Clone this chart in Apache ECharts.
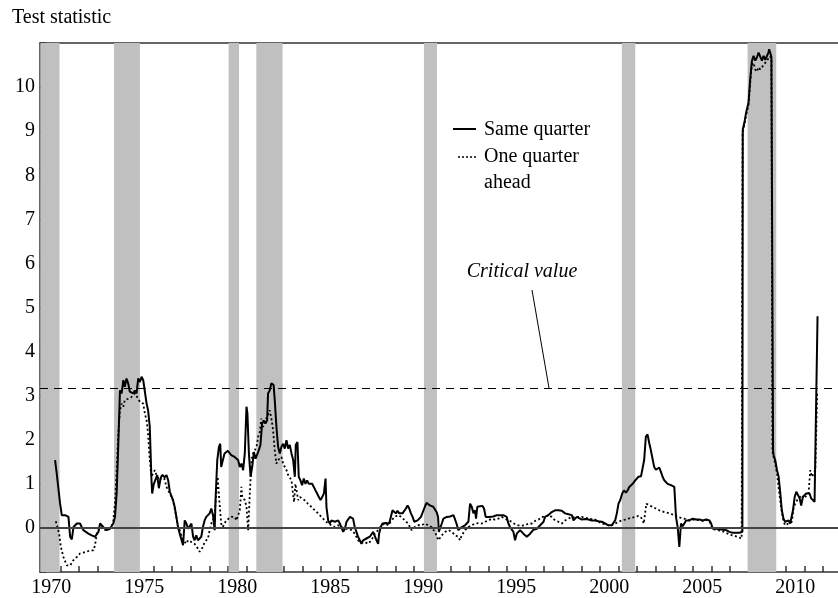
<!DOCTYPE html>
<html><head><meta charset="utf-8">
<script src="https://cdn.jsdelivr.net/npm/echarts@6/dist/echarts.min.js"></script>
<style>html,body{margin:0;padding:0;background:#fff}#c{width:838px;height:598px}</style>
</head><body><div id="c"></div>
<script>
// ---- data ----
const sameYear = [1970.71,1970.80,1970.89,1970.98,1971.07,1971.16,1971.25,1971.34,1971.43,1971.52,1971.61,1971.70,1971.79,1971.88,1972.05,1972.14,1972.23,1972.32,1972.50,1972.68,1972.77,1972.86,1973.04,1973.13,1973.30,1973.48,1973.66,1973.84,1973.93,1974.02,1974.11,1974.20,1974.29,1974.38,1974.46,1974.55,1974.64,1974.73,1974.82,1974.91,1975.00,1975.09,1975.18,1975.27,1975.36,1975.45,1975.54,1975.63,1975.71,1975.80,1975.89,1975.93,1976.02,1976.11,1976.20,1976.29,1976.38,1976.46,1976.61,1976.70,1976.79,1976.88,1976.96,1977.05,1977.14,1977.23,1977.32,1977.41,1977.50,1977.59,1977.68,1977.77,1977.86,1977.95,1978.04,1978.13,1978.21,1978.30,1978.39,1978.48,1978.57,1978.66,1978.75,1978.84,1978.93,1979.02,1979.11,1979.20,1979.29,1979.34,1979.43,1979.52,1979.59,1979.64,1979.73,1979.82,1980.00,1980.18,1980.36,1980.46,1980.55,1980.64,1980.73,1980.82,1980.91,1981.00,1981.05,1981.13,1981.22,1981.31,1981.40,1981.49,1981.57,1981.66,1981.75,1981.84,1981.93,1982.02,1982.11,1982.16,1982.25,1982.34,1982.46,1982.52,1982.61,1982.70,1982.79,1982.88,1982.97,1983.06,1983.15,1983.24,1983.33,1983.42,1983.51,1983.60,1983.65,1983.74,1983.81,1983.90,1983.99,1984.08,1984.17,1984.26,1984.35,1984.44,1984.53,1984.62,1984.71,1984.80,1984.89,1984.98,1985.07,1985.16,1985.25,1985.30,1985.39,1985.48,1985.57,1985.66,1985.75,1985.84,1985.93,1986.02,1986.11,1986.20,1986.29,1986.38,1986.47,1986.56,1986.65,1986.73,1986.82,1986.91,1987.00,1987.09,1987.18,1987.27,1987.36,1987.45,1987.54,1987.63,1987.72,1987.81,1987.90,1987.99,1988.08,1988.13,1988.22,1988.31,1988.40,1988.49,1988.58,1988.67,1988.76,1988.85,1988.94,1989.03,1989.12,1989.21,1989.30,1989.39,1989.48,1989.57,1989.66,1989.75,1989.84,1989.93,1990.02,1990.11,1990.20,1990.29,1990.38,1990.47,1990.59,1990.68,1990.77,1990.86,1990.95,1991.04,1991.13,1991.22,1991.30,1991.34,1991.41,1991.50,1991.59,1991.77,1991.95,1992.04,1992.13,1992.20,1992.29,1992.39,1992.48,1992.57,1992.75,1992.84,1992.93,1993.02,1993.11,1993.20,1993.29,1993.34,1993.41,1993.50,1993.68,1993.77,1993.86,1993.95,1994.04,1994.13,1994.27,1994.36,1994.46,1994.63,1994.72,1994.81,1994.90,1994.99,1995.08,1995.17,1995.26,1995.35,1995.44,1995.53,1995.62,1995.71,1995.80,1995.89,1995.98,1996.07,1996.16,1996.25,1996.34,1996.43,1996.52,1996.61,1996.70,1996.79,1996.88,1996.97,1997.05,1997.14,1997.23,1997.32,1997.41,1997.50,1997.59,1997.77,1997.95,1998.04,1998.13,1998.31,1998.40,1998.49,1998.58,1998.67,1998.76,1998.85,1999.03,1999.21,1999.39,1999.56,1999.74,1999.92,2000.10,2000.28,2000.46,2000.55,2000.64,2000.73,2000.82,2000.91,2001.00,2001.09,2001.20,2001.29,2001.40,2001.49,2001.58,2001.76,2001.90,2002.07,2002.21,2002.38,2002.47,2002.56,2002.66,2002.74,2002.83,2002.92,2003.01,2003.10,2003.19,2003.28,2003.37,2003.46,2003.55,2003.64,2003.82,2004.00,2004.09,2004.18,2004.27,2004.36,2004.45,2004.54,2004.63,2004.81,2004.99,2005.17,2005.35,2005.53,2005.71,2005.89,2005.98,2006.07,2006.25,2006.43,2006.61,2006.79,2006.96,2007.14,2007.32,2007.50,2007.59,2007.66,2007.68,2007.77,2007.86,2007.99,2008.08,2008.17,2008.26,2008.35,2008.44,2008.53,2008.62,2008.71,2008.80,2008.89,2008.98,2009.06,2009.10,2009.22,2009.28,2009.31,2009.34,2009.43,2009.52,2009.61,2009.70,2009.78,2009.87,2009.96,2010.05,2010.14,2010.23,2010.32,2010.38,2010.47,2010.56,2010.65,2010.74,2010.82,2010.91,2011.00,2011.09,2011.18,2011.27,2011.36,2011.45,2011.54,2011.61,2011.70];
const sameValue = [1.54,1.23,1.20,0.55,0.29,0.25,0.29,0.27,0.25,-0.20,-0.26,0.02,0.06,0.10,0.10,0.06,-0.05,-0.09,-0.13,-0.17,-0.13,-0.20,-0.09,0.10,0.02,-0.05,-0.02,0.10,0.25,0.78,1.90,3.12,3.05,3.35,3.20,3.39,3.28,3.09,3.12,3.05,3.12,3.05,3.39,3.31,3.43,3.35,3.39,2.82,2.67,2.30,1.12,0.78,1.00,0.97,1.20,0.90,1.12,1.20,1.15,1.20,1.08,0.82,0.78,0.63,0.48,0.25,0.02,-0.13,-0.17,-0.39,0.17,0.10,-0.02,-0.05,0.10,-0.20,-0.28,-0.17,-0.28,-0.32,-0.20,0.02,0.17,0.25,0.23,0.33,0.44,0.29,-0.05,0.67,1.54,1.84,1.91,1.38,1.42,1.69,1.75,1.65,1.61,1.65,1.54,1.38,1.46,1.31,1.69,2.75,2.60,1.69,1.16,1.39,1.72,1.57,1.61,1.76,1.88,2.37,2.44,2.37,2.44,3.05,3.12,3.28,3.24,2.90,2.29,1.84,1.69,1.84,1.91,1.80,1.99,1.80,1.88,1.69,1.54,1.16,1.88,1.95,1.16,1.08,0.97,1.12,1.00,1.08,1.00,0.97,1.00,0.93,0.85,0.78,0.70,0.63,0.70,0.78,1.12,0.48,0.17,0.10,0.17,0.14,0.14,0.10,0.17,0.10,0.14,-0.09,-0.02,0.14,0.17,0.25,0.26,0.21,0.02,-0.09,-0.20,-0.28,-0.36,-0.28,-0.24,-0.24,-0.20,-0.20,-0.17,-0.09,-0.13,-0.28,-0.36,-0.13,0.02,0.10,0.10,0.11,0.08,0.10,0.25,0.40,0.36,0.33,0.39,0.33,0.29,0.33,0.36,0.44,0.51,0.44,0.33,0.25,0.14,0.17,0.17,0.21,0.25,0.25,0.48,0.57,0.55,0.51,0.48,0.48,0.44,0.36,0.25,-0.09,-0.11,0.10,0.21,0.25,0.26,0.25,0.29,0.29,0.10,-0.05,-0.09,0.02,0.06,0.10,0.14,0.55,0.48,0.33,0.40,0.21,0.48,0.50,0.50,0.44,0.25,0.21,0.25,0.23,0.26,0.25,0.29,0.29,0.25,0.29,0.25,0.25,0.10,0.02,-0.02,-0.09,-0.28,-0.13,-0.09,-0.05,-0.09,-0.13,-0.17,-0.20,-0.17,-0.13,-0.09,-0.04,-0.02,-0.02,0.02,0.06,0.10,0.14,0.25,0.25,0.29,0.33,0.36,0.39,0.40,0.40,0.39,0.36,0.33,0.31,0.33,0.29,0.17,0.21,0.25,0.21,0.19,0.20,0.19,0.17,0.17,0.15,0.14,0.10,0.06,0.05,0.06,0.10,0.17,0.33,0.55,0.63,0.78,0.85,0.80,0.85,0.93,1.00,1.08,1.16,1.17,1.54,2.07,2.12,1.91,1.76,1.57,1.38,1.32,1.34,1.37,1.27,1.16,1.08,1.04,1.00,0.97,0.93,0.25,0.02,-0.43,0.10,0.04,0.10,0.17,0.17,0.21,0.19,0.19,0.17,0.19,0.17,0.10,-0.02,-0.02,-0.03,-0.04,-0.05,-0.09,-0.11,-0.11,-0.11,-0.09,-0.09,9.04,9.20,9.42,9.65,10.18,10.59,10.71,10.60,10.67,10.78,10.69,10.60,10.71,10.62,10.65,10.78,10.86,10.69,10.69,1.75,1.65,1.53,1.31,1.16,0.78,0.40,0.21,0.14,0.14,0.17,0.10,0.06,0.40,0.70,0.82,0.78,0.67,0.51,0.70,0.70,0.78,0.82,0.78,0.67,0.63,0.59,0.57,4.80];

const aheadYear = [1970.75,1970.84,1970.93,1971.02,1971.16,1971.34,1971.43,1971.52,1971.70,1971.88,1972.05,1972.23,1972.41,1972.59,1972.77,1972.86,1972.95,1973.04,1973.21,1973.39,1973.57,1973.75,1973.84,1973.93,1974.02,1974.11,1974.20,1974.29,1974.38,1974.46,1974.64,1974.82,1975.00,1975.18,1975.27,1975.36,1975.45,1975.54,1975.63,1975.71,1975.80,1975.89,1975.98,1976.07,1976.16,1976.25,1976.34,1976.43,1976.52,1976.61,1976.70,1976.79,1976.88,1976.96,1977.05,1977.14,1977.23,1977.32,1977.41,1977.50,1977.59,1977.68,1977.77,1977.86,1977.95,1978.04,1978.21,1978.39,1978.48,1978.57,1978.66,1978.75,1978.84,1978.93,1979.02,1979.11,1979.20,1979.29,1979.38,1979.45,1979.50,1979.54,1979.64,1979.73,1979.82,1979.91,1980.00,1980.18,1980.37,1980.46,1980.55,1980.64,1980.73,1980.77,1980.82,1980.91,1981.00,1981.09,1981.18,1981.27,1981.36,1981.45,1981.54,1981.63,1981.72,1981.80,1981.89,1981.98,1982.07,1982.16,1982.25,1982.34,1982.43,1982.52,1982.61,1982.70,1982.79,1982.88,1982.97,1983.06,1983.15,1983.24,1983.33,1983.42,1983.51,1983.56,1983.63,1983.72,1983.78,1983.87,1983.96,1984.12,1984.30,1984.48,1984.67,1984.85,1985.03,1985.21,1985.39,1985.57,1985.75,1985.93,1986.11,1986.29,1986.47,1986.65,1986.82,1987.00,1987.18,1987.36,1987.54,1987.72,1987.90,1988.08,1988.26,1988.44,1988.62,1988.79,1988.97,1989.15,1989.33,1989.51,1989.69,1989.87,1990.05,1990.23,1990.41,1990.59,1990.77,1990.95,1991.14,1991.32,1991.41,1991.50,1991.68,1991.86,1992.04,1992.22,1992.39,1992.48,1992.57,1992.75,1992.93,1993.11,1993.29,1993.47,1993.65,1993.83,1994.01,1994.19,1994.36,1994.54,1994.72,1994.90,1995.08,1995.26,1995.44,1995.62,1995.80,1995.98,1996.16,1996.34,1996.52,1996.70,1996.88,1997.05,1997.23,1997.41,1997.59,1997.77,1997.95,1998.13,1998.31,1998.49,1998.67,1998.85,1999.03,1999.21,1999.39,1999.56,1999.74,1999.92,2000.10,2000.28,2000.46,2000.64,2000.82,2001.00,2001.18,2001.36,2001.53,2001.71,2001.89,2002.07,2002.20,2002.30,2002.36,2002.43,2002.50,2002.66,2002.83,2003.01,2003.19,2003.46,2003.73,2004.00,2004.18,2004.36,2004.54,2004.63,2004.81,2004.99,2005.17,2005.35,2005.53,2005.71,2005.89,2006.07,2006.25,2006.43,2006.61,2006.79,2006.96,2007.14,2007.32,2007.50,2007.62,2007.67,2007.77,2007.86,2007.99,2008.08,2008.17,2008.26,2008.35,2008.44,2008.53,2008.62,2008.71,2008.80,2008.89,2008.98,2009.06,2009.15,2009.22,2009.27,2009.34,2009.43,2009.52,2009.61,2009.70,2009.78,2009.87,2009.96,2010.05,2010.14,2010.23,2010.32,2010.41,2010.50,2010.59,2010.68,2010.77,2010.86,2010.95,2011.04,2011.13,2011.22,2011.31,2011.40,2011.49,2011.58,2011.68];
const aheadValue = [0.15,0.14,-0.13,-0.43,-0.66,-0.85,-0.88,-0.85,-0.73,-0.66,-0.58,-0.56,-0.54,-0.51,-0.51,-0.39,-0.13,-0.05,0.02,-0.05,-0.02,0.02,0.17,0.55,1.31,2.14,2.67,2.82,2.75,2.90,2.93,2.97,3.05,2.93,2.86,2.90,2.82,2.59,2.44,2.14,1.54,1.16,1.20,1.31,1.20,1.23,1.08,1.12,1.20,1.08,0.93,0.97,0.78,0.74,0.63,0.44,0.25,0.02,-0.05,-0.17,-0.28,-0.32,-0.36,-0.28,-0.24,-0.32,-0.36,-0.47,-0.54,-0.51,-0.43,-0.32,-0.28,-0.24,-0.05,0.10,0.17,0.33,0.78,1.16,1.20,0.63,0.10,0.02,0.10,0.17,0.21,0.25,0.25,0.17,0.21,0.40,0.93,0.70,0.74,0.63,0.48,-0.05,0.78,1.54,1.69,1.76,1.84,2.07,2.18,2.48,2.29,2.41,2.44,2.56,2.67,2.48,2.22,1.76,1.46,1.54,1.54,1.61,1.46,1.42,1.31,1.20,1.23,1.08,0.74,0.59,1.00,1.00,0.63,0.70,0.67,0.63,0.55,0.48,0.40,0.33,0.25,0.17,0.10,0.06,0.02,0.06,0.02,-0.02,-0.02,-0.05,-0.13,-0.28,-0.34,-0.32,-0.36,-0.28,-0.13,-0.05,0.06,0.10,0.06,0.17,0.25,0.29,0.25,0.17,0.10,-0.05,0.02,0.06,0.06,0.10,0.06,0.02,-0.10,-0.28,-0.25,-0.17,-0.09,-0.05,-0.09,-0.17,-0.20,-0.28,-0.17,-0.05,0.02,0.06,0.10,0.11,0.10,0.14,0.17,0.21,0.19,0.21,0.25,0.21,0.17,0.14,0.08,0.06,0.05,0.06,0.10,0.10,0.16,0.19,0.25,0.25,0.29,0.25,0.17,0.14,0.10,0.17,0.21,0.25,0.23,0.25,0.25,0.23,0.21,0.20,0.19,0.14,0.10,0.08,0.06,0.06,0.10,0.14,0.17,0.19,0.21,0.23,0.25,0.27,0.25,0.17,0.10,0.33,0.55,0.51,0.48,0.44,0.40,0.36,0.33,0.29,0.25,0.23,0.21,0.19,0.17,0.19,0.18,0.18,0.16,0.18,0.15,-0.03,-0.04,-0.06,-0.08,-0.11,-0.15,-0.17,-0.19,-0.22,-0.24,8.95,9.15,9.35,9.60,10.10,10.50,10.55,10.40,10.35,10.45,10.40,10.38,10.50,10.55,10.60,10.65,10.70,10.62,1.75,1.60,1.45,1.23,0.90,0.60,0.36,0.15,0.06,0.10,0.10,0.14,0.14,0.45,0.55,0.62,0.67,0.70,0.74,0.67,0.67,0.74,0.80,1.31,1.16,1.23,1.31,3.05];

const recessionStart = [1969.92, 1973.88, 1980.04, 1981.53, 1990.54, 2001.18, 2007.94];
const recessionEnd   = [1970.95, 1975.27, 1980.60, 1982.94, 1991.24, 2001.90, 2009.48];
const criticalValue = 3.17;
const xTickYears = [1970,1971,1972,1973,1974,1975,1976,1977,1978,1979,1980,1981,1982,1983,1984,1985,1986,1987,1988,1989,1990,1991,1992,1993,1994,1995,1996,1997,1998,1999,2000,2001,2002,2003,2004,2005,2006,2007,2008,2009,2010,2011,2012];
const xLabelYears = [1970,1975,1980,1985,1990,1995,2000,2005,2010];
const yLabelValues = [0,1,2,3,4,5,6,7,8,9,10];

// ---- chart ----
const FONT = '"Liberation Serif","Times New Roman",serif';
const X_MIN = 1969.9, X_MAX = 2012.8;
const axisColor = '#333';
const chart = echarts.init(document.getElementById('c'), null, {renderer: 'canvas'});
const option = {
  animation: false,
  backgroundColor: '#fff',
  grid: {left: 40, top: 43, right: 0, bottom: 26},
  xAxis: [{
    type: 'value', min: X_MIN, max: X_MAX,
    axisLine: {show: true, onZero: false, lineStyle: {color: axisColor, width: 1.5}},
    axisTick: {show: true, inside: true, length: 6, customValues: xTickYears, lineStyle: {color: axisColor, width: 1.5}},
    axisLabel: {customValues: xLabelYears.map(y => y + 0.5), formatter: v => String(Math.floor(v)),
      fontFamily: FONT, fontSize: 20, color: '#000', margin: 6},
    splitLine: {show: false}
  }, {
    type: 'value', position: 'top', min: X_MIN, max: X_MAX,
    axisLine: {show: true, onZero: false, lineStyle: {color: axisColor, width: 1.5}},
    axisTick: {show: false}, axisLabel: {show: false}, splitLine: {show: false}
  }],
  yAxis: {
    type: 'value', min: -1, max: 11, interval: 1,
    axisLine: {show: true, onZero: false, lineStyle: {color: axisColor, width: 1.5}},
    axisTick: {show: true, inside: true, length: 6, lineStyle: {color: axisColor, width: 1.5}},
    axisLabel: {formatter: v => (yLabelValues.indexOf(v) >= 0 ? String(v) : ''),
      fontFamily: FONT, fontSize: 20, color: '#000', margin: 5},
    splitLine: {show: false}
  },
  series: [
    {type: 'line', data: [], z: 1, silent: true,
      markArea: {silent: true, itemStyle: {color: '#c0c0c0', opacity: 1},
        data: recessionStart.map((s, i) => [{xAxis: s}, {xAxis: recessionEnd[i]}])}},
    {type: 'line', data: [], z: 2, silent: true,
      markLine: {silent: true, symbol: 'none', label: {show: false}, animation: false,
        data: [
          {yAxis: 0, lineStyle: {color: '#444', width: 2, type: 'solid'}},
          {yAxis: criticalValue, lineStyle: {color: '#000', width: 1.2, type: [8, 6]}}
        ]}},
    {name: 'One quarter ahead', type: 'line', z: 3, showSymbol: false, symbol: 'none',
      data: aheadYear.map((x, i) => [x, aheadValue[i]]),
      lineStyle: {color: '#000', width: 1.8, type: [2, 2.5]}},
    {name: 'Same quarter', type: 'line', z: 4, showSymbol: false, symbol: 'none',
      data: sameYear.map((x, i) => [x, sameValue[i]]),
      lineStyle: {color: '#000', width: 2}}
  ],
  graphic: [
    {type: 'text', left: 12, top: 8, style: {text: 'Test statistic', font: '20px ' + FONT, fill: '#000'}},
    {type: 'line', shape: {x1: 453, y1: 129, x2: 476, y2: 129}, style: {stroke: '#000', lineWidth: 2}},
    {type: 'line', shape: {x1: 458, y1: 157, x2: 476, y2: 157}, style: {stroke: '#000', lineWidth: 1.5, lineDash: [2, 2]}},
    {type: 'text', x: 484, y: 130, style: {text: 'Same quarter', font: '20px ' + FONT, fill: '#000', verticalAlign: 'middle'}},
    {type: 'text', x: 484, y: 157, style: {text: 'One quarter', font: '20px ' + FONT, fill: '#000', verticalAlign: 'middle'}},
    {type: 'text', x: 484, y: 183, style: {text: 'ahead', font: '20px ' + FONT, fill: '#000', verticalAlign: 'middle'}},
    {type: 'text', x: 522, y: 272, style: {text: 'Critical value', font: 'italic 20px ' + FONT, fill: '#000', align: 'center', verticalAlign: 'middle'}},
    {type: 'line', shape: {x1: 532, y1: 290, x2: 549, y2: 388}, style: {stroke: '#000', lineWidth: 1}}
  ]
};
chart.setOption(option);
</script>
</body></html>
